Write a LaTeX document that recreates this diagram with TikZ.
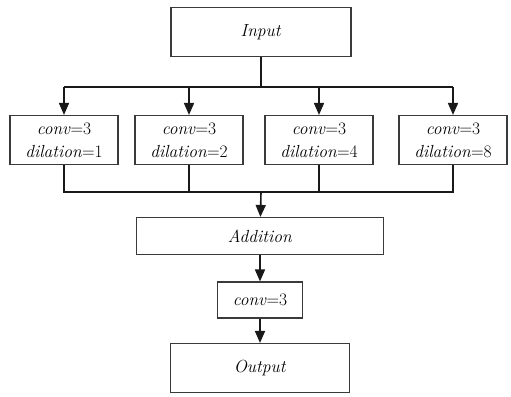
\documentclass[tikz,border=0pt]{standalone}
\usepackage{fontspec}
\usetikzlibrary{arrows.meta, positioning, calc}
\definecolor{boxGray}{HTML}{3A3A3A}
\colorlet{wireBlack}{black!90}

\begin{document}
\begin{tikzpicture}[x=1pt, y=-1pt,
  every node/.style={font=\rmfamily\fontsize{17.5}{23}\selectfont},
  block/.style={draw=boxGray, line width=1.1pt, inner sep=2pt,
    minimum height=49pt, align=center},
  branch/.style={block, minimum width=108pt},
  arr/.style={-{Triangle[width=10pt,length=12pt]}, line width=1.6pt, wireBlack},
  wire/.style={line width=1.6pt, wireBlack},
]
  \useasboundingbox (0,0) rectangle (511,396);

  \node[block, minimum width=180pt] (input) at (261, 32) {\textit{Input}};

  \node[branch] (d1) at (64, 140)  {\textit{conv}=3\\\textit{dilation}=1};
  \node[branch] (d2) at (189, 140) {\textit{conv}=3\\\textit{dilation}=2};
  \node[branch] (d4) at (319, 140) {\textit{conv}=3\\\textit{dilation}=4};
  \node[branch] (d8) at (453, 140) {\textit{conv}=3\\\textit{dilation}=8};

  \node[block, minimum width=247pt, minimum height=37pt] (add) at (260, 236) {\textit{Addition}};
  \node[block, minimum width=85pt, minimum height=36pt] (conv) at (260, 300) {\textit{conv}=3};
  \node[block, minimum width=179pt] (output) at (260, 368) {\textit{Output}};

  \coordinate (split) at (261, 87);
  \coordinate (merge) at (261, 192);

  % fan out
  \draw[wire] (input) -- (split);
  \draw[wire] (d1.north |- split) -- (d8.north |- split);
  \draw[arr] (d1.north |- split) -- (d1.north);
  \draw[arr] (d2.north |- split) -- (d2.north);
  \draw[arr] (d4.north |- split) -- (d4.north);
  \draw[arr] (d8.north |- split) -- (d8.north);

  % fan in
  \draw[wire] (d1.south) -- (d1.south |- merge) -- (d8.south |- merge) -- (d8.south);
  \draw[wire] (d2.south) -- (d2.south |- merge);
  \draw[wire] (d4.south) -- (d4.south |- merge);
  \draw[arr] (merge) -- (add);

  \draw[arr] (add) -- (conv);
  \draw[arr] (conv) -- (output);
\end{tikzpicture}
\end{document}
